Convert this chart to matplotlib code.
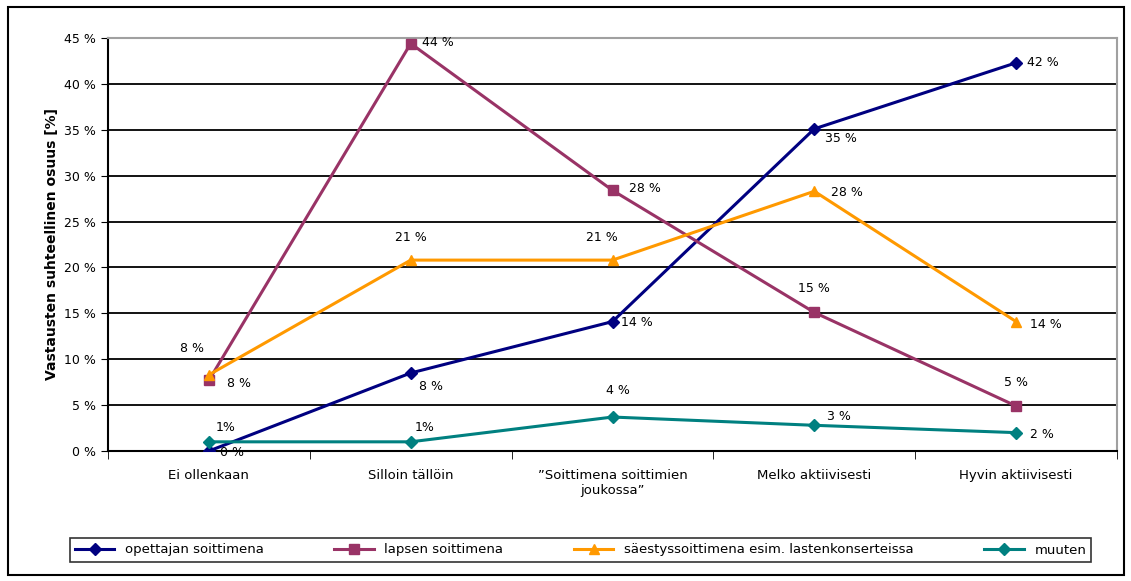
import matplotlib.pyplot as plt
from matplotlib.patches import Rectangle
import numpy as np

categories = ["Ei ollenkaan", "Silloin tällöin", "\u201dSoittimena soittimien\njoukossa\u201d",
              "Melko aktiivisesti", "Hyvin aktiivisesti"]
opettajan = [0.0, 8.5, 14.1, 35.1, 42.3]
lapsen = [7.7, 44.4, 28.4, 15.1, 4.9]
saestys = [8.3, 20.8, 20.8, 28.3, 14.1]
muuten = [1.0, 1.0, 3.7, 2.8, 2.0]

opettajan_txt = ["0 %", "8 %", "14 %", "35 %", "42 %"]
lapsen_txt = ["8 %", "44 %", "28 %", "15 %", "5 %"]
saestys_txt = ["8 %", "21 %", "21 %", "28 %", "14 %"]
muuten_txt = ["1%", "1%", "4 %", "3 %", "2 %"]

plt.rcParams['font.family'] = 'DejaVu Sans'
fig = plt.figure(figsize=(11.31, 5.81), dpi=100)
ax = fig.add_axes([108 / 1131, 1 - 451 / 581, 1009 / 1131, 413 / 581])

x = np.arange(len(categories))
series = [
    ("opettajan soittimena", opettajan, opettajan_txt, "#000080", "D", 6),
    ("lapsen soittimena", lapsen, lapsen_txt, "#993366", "s", 6.5),
    ("säestyssoittimena esim. lastenkonserteissa", saestys, saestys_txt, "#FF9900", "^", 7.5),
    ("muuten", muuten, muuten_txt, "#008080", "D", 6),
]
for name, vals, txt, col, mk, ms in series:
    ax.plot(x, vals, color=col, lw=2.2, marker=mk, markersize=ms, label=name, zorder=3)

# label offsets in points (dx, dy, ha)
offsets = {
    "opettajan soittimena": [(8, -1, "left"), (6, -10, "left"), (6, -1, "left"), (8, -7, "left"), (8, 0, "left")],
    "lapsen soittimena": [(13, -2, "left"), (8, 1, "left"), (12, 1, "left"), (0, 17, "center"), (0, 17, "center")],
    "säestyssoittimena esim. lastenkonserteissa": [(-12, 19, "center"), (0, 16, "center"), (-8, 16, "center"), (12, -1, "left"), (10, -2, "left")],
    "muuten": [(12, 10, "center"), (10, 10, "center"), (4, 19, "center"), (18, 6, "center"), (10, -1, "left")],
}
for name, vals, txt, col, mk, ms in series:
    for i, (v, t) in enumerate(zip(vals, txt)):
        dx, dy, ha = offsets[name][i]
        ax.annotate(t, (x[i], v), xytext=(dx, dy), textcoords="offset points",
                    ha=ha, va="center", fontsize=9, zorder=4)

ax.set_xlim(-0.5, 4.5)
ax.set_ylim(0, 45)
ax.set_yticks(np.arange(0, 46, 5))
ax.set_yticklabels([f"{v} %" for v in range(0, 46, 5)], fontsize=9)
ax.set_xticks(x)
ax.set_xticklabels(categories, fontsize=9.5)
ax.tick_params(axis="x", length=0, pad=13)
ax.set_xticks(np.arange(-0.5, 5, 1), minor=True)
ax.tick_params(axis="x", which="minor", length=6, direction="out", color="black")
ax.tick_params(axis="y", length=5, direction="out", color="black")
ax.grid(axis="y", color="black", lw=1.3)
ax.set_axisbelow(True)
for s in ["top", "right"]:
    ax.spines[s].set_color("#a0a0a0")
    ax.spines[s].set_linewidth(1.5)
for s in ["left", "bottom"]:
    ax.spines[s].set_color("black")
    ax.spines[s].set_linewidth(1.5)

ax.set_ylabel("Vastausten suhteellinen osuus [%]", fontsize=10, fontweight="bold", labelpad=4)

leg = fig.legend(loc="center", bbox_to_anchor=(63 / 1131, 1 - 567 / 581, 1035 / 1131, 34 / 581),
                 mode="expand", ncol=4, fontsize=9.5, frameon=True, fancybox=False,
                 handlelength=3, borderpad=0.4, columnspacing=1.5)
leg.get_frame().set_edgecolor("black")
leg.get_frame().set_linewidth(1.2)

fig.patches.append(Rectangle((8 / 1131, 1 - 575 / 581), 1116 / 1131, 568 / 581,
                             transform=fig.transFigure, fill=False, edgecolor="black", lw=1.5))

plt.savefig("out.png", dpi=100)
